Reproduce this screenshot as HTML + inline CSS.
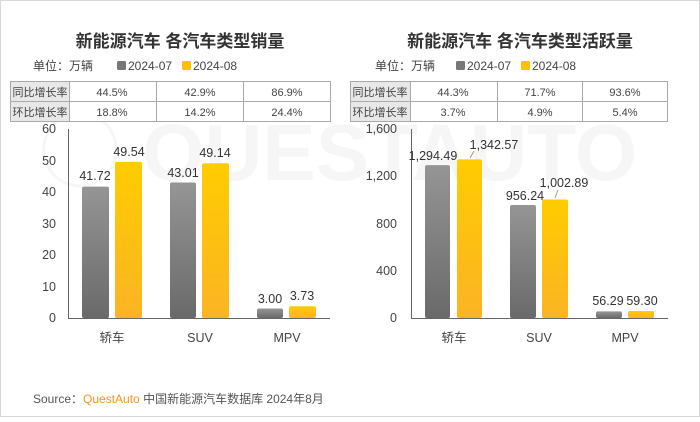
<!DOCTYPE html>
<html><head><meta charset="utf-8"><style>
body{margin:0;background:#fff;}
svg text{font-family:"Liberation Sans","Noto Sans CJK SC",sans-serif;}
</style></head><body>
<svg width="700" height="417" viewBox="0 0 700 417" xmlns="http://www.w3.org/2000/svg">
<defs>
<linearGradient id="g" x1="0" y1="0" x2="0" y2="1"><stop offset="0" stop-color="#959595"/><stop offset="1" stop-color="#6a6a6a"/></linearGradient>
<linearGradient id="y" x1="0" y1="0" x2="0" y2="1"><stop offset="0" stop-color="#ffcc00"/><stop offset="1" stop-color="#fbb424"/></linearGradient>
</defs>
<rect x="0.5" y="0.5" width="699" height="416" fill="#fff" stroke="#d8d8d8"/>
<text x="40" y="180" font-size="80" fill="#f6f6f6" font-weight="bold">◯ QUESTAUTO</text>
<text x="180" y="47" font-size="17" font-weight="bold" fill="#333" text-anchor="middle">新能源汽车 各汽车类型销量</text>
<text x="520" y="47" font-size="17" font-weight="bold" fill="#333" text-anchor="middle">新能源汽车 各汽车类型活跃量</text>
<g font-size="12" fill="#444">
<text x="33" y="70">单位：万辆</text>
<rect x="117" y="61" width="9" height="9" rx="1.5" fill="#777"/><text x="128" y="70">2024-07</text>
<rect x="182" y="61" width="9" height="9" rx="1.5" fill="#ffc000"/><text x="193" y="70">2024-08</text>
<text x="375" y="70">单位：万辆</text>
<rect x="456" y="61" width="9" height="9" rx="1.5" fill="#777"/><text x="467" y="70">2024-07</text>
<rect x="521" y="61" width="9" height="9" rx="1.5" fill="#ffc000"/><text x="532" y="70">2024-08</text>
</g>
<g stroke="#aaa" stroke-width="1" font-size="12" fill="#444">
<rect x="10.5" y="81.5" width="59" height="40" fill="#e8e8e8"/>
<rect x="69.5" y="81.5" width="261" height="40" fill="#fff"/>
<line x1="10" y1="101.5" x2="331" y2="101.5"/>
<line x1="156.5" y1="81" x2="156.5" y2="122"/><line x1="243.5" y1="81" x2="243.5" y2="122"/>
<rect x="350.5" y="81.5" width="60" height="40" fill="#e8e8e8"/>
<rect x="410.5" y="81.5" width="257" height="40" fill="#fff"/>
<line x1="350" y1="101.5" x2="668" y2="101.5"/>
<line x1="497.5" y1="81" x2="497.5" y2="122"/><line x1="582.5" y1="81" x2="582.5" y2="122"/>
</g>
<g font-size="11" fill="#444" text-anchor="middle">
<text x="40" y="96">同比增长率</text><text x="40" y="116">环比增长率</text>
<text x="112" y="96">44.5%</text><text x="200" y="96">42.9%</text><text x="287" y="96">86.9%</text>
<text x="112" y="116">18.8%</text><text x="200" y="116">14.2%</text><text x="287" y="116">24.4%</text>
<text x="380" y="96">同比增长率</text><text x="380" y="116">环比增长率</text>
<text x="453" y="96">44.3%</text><text x="540" y="96">71.7%</text><text x="625" y="96">93.6%</text>
<text x="453" y="116">3.7%</text><text x="540" y="116">4.9%</text><text x="625" y="116">5.4%</text>
</g>
<g font-size="12.5" fill="#444" text-anchor="end">
<text x="56" y="133">60</text><text x="56" y="165">50</text><text x="56" y="196">40</text><text x="56" y="228">30</text><text x="56" y="259">20</text><text x="56" y="291">10</text><text x="56" y="322">0</text>
<text x="397" y="133">1,600</text><text x="397" y="180">1,200</text><text x="397" y="228">800</text><text x="397" y="275">400</text><text x="397" y="322">0</text>
</g>
<line x1="68.5" y1="129" x2="68.5" y2="318" stroke="#666"/>
<line x1="68" y1="318.5" x2="330" y2="318.5" stroke="#666"/>
<line x1="411.5" y1="129" x2="411.5" y2="318" stroke="#666"/>
<line x1="411" y1="318.5" x2="668" y2="318.5" stroke="#666"/>
<g>
<rect x="82" y="186.6" width="27" height="131.4" rx="2" fill="url(#g)"/>
<rect x="115" y="161.9" width="27" height="156.1" rx="2" fill="url(#y)"/>
<rect x="170" y="182.5" width="26" height="135.5" rx="2" fill="url(#g)"/>
<rect x="202" y="163.2" width="27" height="154.8" rx="2" fill="url(#y)"/>
<rect x="257" y="308.5" width="26" height="9.5" rx="2" fill="url(#g)"/>
<rect x="289" y="306.2" width="27" height="11.8" rx="2" fill="url(#y)"/>
<rect x="425" y="165.1" width="25" height="152.9" rx="2" fill="url(#g)"/>
<rect x="457" y="159.4" width="25" height="158.6" rx="2" fill="url(#y)"/>
<rect x="510" y="205" width="26" height="113" rx="2" fill="url(#g)"/>
<rect x="542" y="199.5" width="26" height="118.5" rx="2" fill="url(#y)"/>
<rect x="596" y="311.4" width="26" height="6.6" rx="2" fill="url(#g)"/>
<rect x="628" y="311" width="26" height="7" rx="2" fill="url(#y)"/>
</g>
<g font-size="12.5" fill="#333" text-anchor="middle">
<text x="95" y="180">41.72</text><text x="129" y="156">49.54</text>
<text x="183" y="177">43.01</text><text x="215" y="157">49.14</text>
<text x="270" y="303">3.00</text><text x="302" y="300">3.73</text>
<text x="433" y="160">1,294.49</text><text x="494" y="149">1,342.57</text>
<text x="525" y="200">956.24</text><text x="564" y="187">1,002.89</text>
<text x="608" y="305">56.29</text><text x="642" y="305">59.30</text>
</g>
<line x1="470" y1="158" x2="474" y2="151" stroke="#999"/>
<line x1="555" y1="198" x2="558" y2="190" stroke="#999"/>
<g font-size="12.5" fill="#444" text-anchor="middle">
<text x="112" y="342">轿车</text><text x="200" y="342">SUV</text><text x="287" y="342">MPV</text>
<text x="454" y="342">轿车</text><text x="539" y="342">SUV</text><text x="625" y="342">MPV</text>
</g>
<text x="33" y="403" font-size="12" fill="#555">Source：<tspan fill="#f7941d">QuestAuto</tspan> 中国新能源汽车数据库 2024年8月</text>
</svg>
</body></html>
